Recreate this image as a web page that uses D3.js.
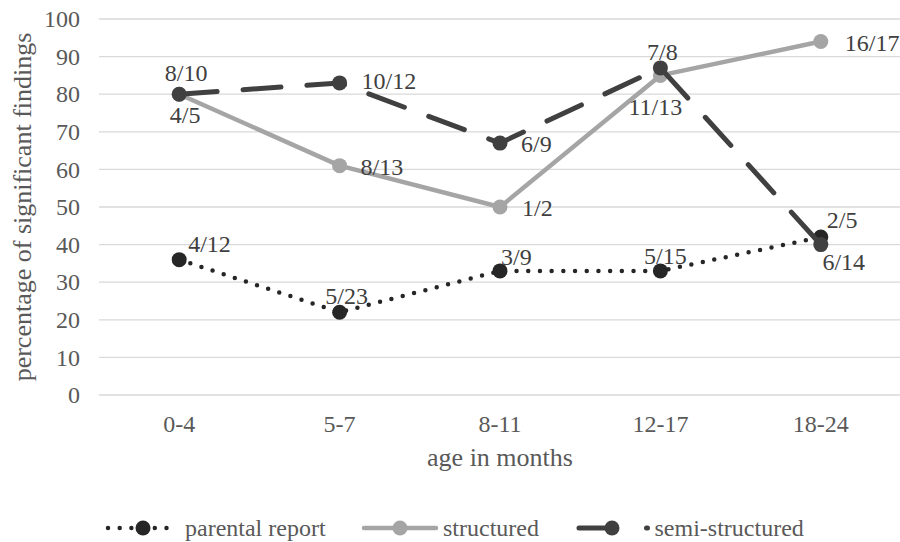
<!DOCTYPE html>
<html>
<head>
<meta charset="utf-8">
<script src="https://cdn.jsdelivr.net/npm/d3@7/dist/d3.min.js"></script>
<style>
  html, body { margin: 0; padding: 0; background: #fff; }
</style>
</head>
<body>
<svg id="chart" width="900" height="542"></svg>
<script>
// ---- data ----
const categories = ["0-4", "5-7", "8-11", "12-17", "18-24"];
const parentalValues = [36, 22, 33, 33, 42];
const structuredValues = [80, 61, 50, 85, 94];
const semiValues = [80, 83, 67, 87, 40];
const parentalLabels = ["4/12", "5/23", "3/9", "5/15", "2/5"];
const structuredLabels = ["4/5", "8/13", "1/2", "11/13", "16/17"];
const semiLabels = ["8/10", "10/12", "6/9", "7/8", "6/14"];
const yTicks = [0, 10, 20, 30, 40, 50, 60, 70, 80, 90, 100];
const seriesNames = ["parental report", "structured", "semi-structured"];

// ---- layout ----
const FONT = '"Liberation Serif"';
const svg = d3.select("#chart");
const x = d3.scaleBand().domain(categories).range([99, 901]).padding(0);
const y = d3.scaleLinear().domain([0, 100]).range([395, 19]);
const cx = c => x(c) + x.bandwidth() / 2;

// gridlines
svg.append("g").selectAll("line").data(yTicks).join("line")
  .attr("x1", 99).attr("x2", 901)
  .attr("y1", d => y(d)).attr("y2", d => y(d))
  .attr("stroke", "#d9d9d9").attr("stroke-width", 1.3);

// y axis labels
const yAxis = svg.append("g").attr("transform", "translate(80,0)")
  .call(d3.axisLeft(y).tickValues(yTicks).tickSize(0).tickPadding(0));
yAxis.select(".domain").remove();
yAxis.selectAll("text").style("font-family", FONT).style("font-size", "24px").attr("fill", "#595959");

// x axis labels
const xAxis = svg.append("g").attr("transform", "translate(0,395)")
  .call(d3.axisBottom(x).tickSize(0).tickPadding(0));
xAxis.select(".domain").remove();
xAxis.selectAll("text").style("font-family", FONT).style("font-size", "24px").attr("fill", "#595959")
  .attr("y", 37).attr("dy", 0);

// axis titles
svg.append("text").attr("x", 500).attr("y", 466).attr("text-anchor", "middle")
  .style("font-family", FONT).style("font-size", "26px").attr("fill", "#595959").text("age in months");
svg.append("text").attr("transform", "translate(31,207) rotate(-90)")
  .attr("text-anchor", "middle").style("font-family", FONT).style("font-size", "26px").attr("fill", "#595959")
  .text("percentage of significant findings");

// series definitions
const series = [
  { name: seriesNames[0], values: parentalValues, labels: parentalLabels,
    color: "#262626", width: 4.5, dash: "0,11.7",
    lab: [["start", 9, -16], ["middle", 7, -17], ["start", 1, -14], ["middle", 5, -15], ["start", 6, -17]] },
  { name: seriesNames[1], values: structuredValues, labels: structuredLabels,
    color: "#a5a5a5", width: 4.5, dash: null,
    lab: [["middle", 6, 20], ["start", 21, 1], ["start", 22, 1], ["middle", -5, 31], ["start", 24, 1]] },
  { name: seriesNames[2], values: semiValues, labels: semiLabels,
    color: "#404040", width: 5, dash: "38,26",
    lab: [["middle", 7, -22], ["start", 22, -2], ["start", 21, 1], ["middle", 2, -16], ["middle", 23, 17]] }
];

const line = d3.line().x(d => cx(d.c)).y(d => y(d.v));

series.forEach(s => {
  const pts = categories.map((c, k) => ({ c, v: s.values[k] }));
  const g = svg.append("g");
  g.append("path").datum(pts).attr("d", line)
    .attr("fill", "none").attr("stroke", s.color).attr("stroke-width", s.width)
    .attr("stroke-linecap", "round").attr("stroke-linejoin", "round")
    .attr("stroke-dasharray", s.dash);
  g.selectAll("circle").data(pts).join("circle")
    .attr("cx", d => cx(d.c)).attr("cy", d => y(d.v)).attr("r", 7.5)
    .attr("fill", s.color);
});

// labels
series.forEach(s => {
  categories.forEach((c, k) => {
    const [anchor, dx, dy] = s.lab[k];
    svg.append("text")
      .attr("x", cx(c) + dx).attr("y", y(s.values[k]) + dy)
      .attr("dy", "0.35em").attr("text-anchor", anchor)
      .style("font-family", FONT).style("font-size", "24px").attr("fill", "#404040")
      .text(s.labels[k]);
  });
});

// legend
const legendItems = [
  { s: series[0], x0: 108, x1: 178 },
  { s: series[1], x0: 364, x1: 436 },
  { s: series[2], x0: 579, x1: 647.5 }
];
const ly = 528;
legendItems.forEach(it => {
  const s = it.s;
  const g = svg.append("g");
  g.append("line").attr("x1", it.x0).attr("x2", it.x1).attr("y1", ly).attr("y2", ly)
    .attr("stroke", s.color).attr("stroke-width", s.width).attr("stroke-linecap", "round")
    .attr("stroke-dasharray", s === series[2] ? "34,33.5" : s.dash);
  g.append("circle").attr("cx", s === series[2] ? 612 : (it.x0 + it.x1) / 2).attr("cy", ly)
    .attr("r", 7.5).attr("fill", s.color);
  g.append("text").attr("x", it.x1 + 7).attr("y", ly).attr("dy", "0.35em")
    .style("font-family", FONT).style("font-size", "24px").attr("fill", "#595959").text(s.name);
});
</script>
</body>
</html>
